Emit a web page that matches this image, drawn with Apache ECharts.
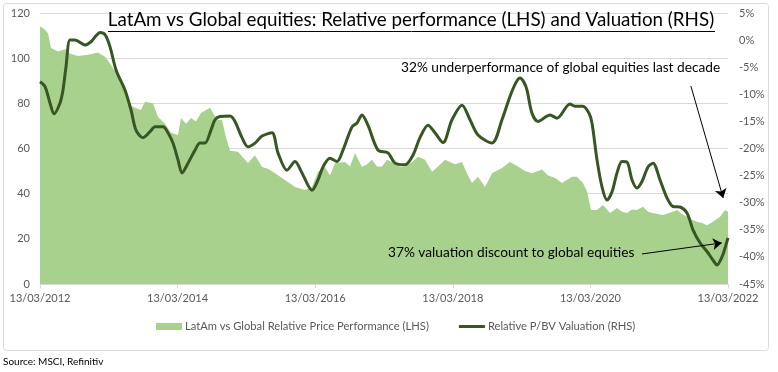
<!DOCTYPE html>
<html><head><meta charset="utf-8">
<script src="https://cdn.jsdelivr.net/npm/echarts@6/dist/echarts.min.js"></script>
<style>html,body{margin:0;padding:0;background:#fff}#c{width:778px;height:372px}</style>
</head><body><div id="c"></div>
<script>
// x values: years elapsed since 13/03/2012
const perfYears = [0,0.058,0.116,0.160,0.262,0.363,0.436,0.552,0.698,0.843,0.945,1.032,1.134,1.235,1.323,1.381,1.468,1.526,1.642,1.715,1.817,1.904,2.006,2.049,2.122,2.195,2.267,2.340,2.471,2.529,2.587,2.645,2.703,2.762,2.878,2.951,3.023,3.125,3.227,3.314,3.416,3.561,3.706,3.852,3.953,4.041,4.142,4.215,4.288,4.433,4.506,4.578,4.680,4.753,4.826,4.898,4.971,5.044,5.116,5.233,5.305,5.407,5.494,5.596,5.698,5.785,5.887,6.032,6.134,6.206,6.279,6.366,6.468,6.570,6.715,6.831,6.948,7.049,7.151,7.297,7.384,7.485,7.587,7.733,7.805,7.892,7.951,7.980,8.009,8.096,8.183,8.285,8.387,8.459,8.532,8.605,8.677,8.765,8.837,8.910,9.055,9.157,9.259,9.331,9.404,9.477,9.549,9.622,9.695,9.782,9.884,9.956,10.0];
const perfValues = [114,113,111,104.5,103,104,102,101,101.5,102.5,100.6,97,92,87,79,78,77,80.7,80,74,71,67,66,73.5,71,73.5,72,75.7,78,75,72.6,72.6,65,59,58.6,56,53.6,57,51.8,51,49,46,43,41.6,43,49.7,51.8,48,53.6,54,52,58,51.8,53,55,52,52,55,54,52,52,54,56.4,55,49.7,52,55,53,54,49,44.7,47.5,43,49,51.4,54,52,50,49,50.7,48,47,44.7,47.5,47.5,44.7,41,37,32.8,32.8,35,31.4,33.6,32,31.4,33,32.8,34.2,32,31.4,30.6,31.5,32.8,31,29.8,28.5,27.6,27,26,27.6,29.8,32.8,32];
const valYears = [0,0.073,0.145,0.203,0.291,0.334,0.378,0.436,0.509,0.654,0.741,0.814,0.872,0.945,1.017,1.105,1.235,1.323,1.395,1.497,1.599,1.672,1.788,1.860,1.933,2.006,2.064,2.151,2.253,2.326,2.398,2.485,2.544,2.616,2.762,2.834,2.936,3.023,3.125,3.227,3.372,3.459,3.590,3.706,3.808,3.953,4.041,4.113,4.215,4.317,4.404,4.535,4.608,4.680,4.767,4.913,5.058,5.160,5.305,5.422,5.523,5.640,5.741,5.858,5.988,6.134,6.250,6.366,6.570,6.715,6.831,6.919,6.977,7.035,7.078,7.151,7.238,7.413,7.515,7.703,7.776,7.892,7.980,8.023,8.096,8.169,8.241,8.314,8.387,8.459,8.532,8.605,8.677,8.750,8.837,8.910,9.012,9.113,9.201,9.302,9.404,9.491,9.593,9.695,9.782,9.840,9.913,9.956,10.0];
const valValues = [-7.7,-8.6,-11.6,-13.6,-11.6,-9.2,-4.9,0,0,-0.9,-0.3,0.8,1.4,1,-1.2,-5.5,-9.2,-12.9,-16.6,-18,-16.9,-16,-16,-17.1,-19,-22.1,-24.5,-22.7,-20.3,-19,-19,-16.6,-14.7,-14.1,-14,-15,-18,-19.7,-19,-17.7,-17.1,-20.8,-24,-22.4,-24.5,-27.7,-25.8,-23.4,-21.8,-22.4,-20.3,-16,-15.3,-13.8,-15.7,-20.3,-20.8,-22.7,-23,-21.2,-18,-15.7,-17.1,-18.9,-14.7,-12,-14.7,-17.5,-19,-14.7,-10.4,-7.8,-7,-7.8,-9.2,-13.5,-15,-13.8,-14.4,-11.8,-12.2,-12.2,-13.5,-15.3,-22.1,-27.1,-29.5,-28,-24.5,-22.4,-22.5,-25.8,-27.3,-26.1,-23.4,-22.7,-25.8,-29.1,-30.7,-30.8,-31.9,-35,-37.4,-39,-40.6,-41.5,-40,-38.4,-36.5];
const startYear = 2012;
const tickPrefix = '13/03/';
const titleText = 'LatAm vs Global equities: Relative performance (LHS) and Valuation (RHS)';
const seriesNames = ['LatAm vs Global Relative Price Performance (LHS)', 'Relative P/BV Valuation (RHS)'];
const note1 = '32% underperformance of global equities last decade';
const note2 = '37% valuation discount to global equities';
const sourceText = 'Source: MSCI, Refinitiv';

const FONT = 'Lato';
const chart = echarts.init(document.getElementById('c'), null, {renderer: 'canvas'});
const perfData = perfYears.map((x, i) => [x, perfValues[i]]);
const valData = valYears.map((x, i) => [x, valValues[i]]);

chart.setOption({
  animation: false,
  textStyle: {fontFamily: FONT},
  grid: {left: 40, right: 50, top: 13, bottom: 88},
  xAxis: {
    type: 'value', min: 0, max: 10, interval: 2,
    axisLine: {show: true, lineStyle: {color: '#d9d9d9'}},
    axisTick: {show: true, length: 4, lineStyle: {color: '#d9d9d9'}},
    splitLine: {show: false},
    axisLabel: {color: '#595959', fontSize: 11, fontFamily: FONT, margin: 9,
      formatter: v => tickPrefix + (startYear + v)}
  },
  yAxis: [{
    type: 'value', min: 0, max: 120, interval: 20,
    axisLine: {show: false}, axisTick: {show: false},
    splitLine: {show: true, lineStyle: {color: '#d9d9d9'}},
    axisLabel: {color: '#595959', fontSize: 11, fontFamily: FONT, margin: 10}
  }, {
    type: 'value', min: -45, max: 5, interval: 5,
    axisLine: {show: false}, axisTick: {show: false},
    splitLine: {show: false},
    axisLabel: {color: '#595959', fontSize: 11, fontFamily: FONT, margin: 11,
      formatter: v => v + '%'}
  }],
  legend: {
    bottom: 35, left: 151, itemGap: 30, itemWidth: 26, itemHeight: 7,
    textStyle: {color: '#595959', fontSize: 11.2, fontFamily: FONT, padding: [0, 0, 0, -2]},
    data: [
      {name: seriesNames[0], icon: 'rect'},
      {name: seriesNames[1], icon: 'path://M0,0h0.05v0.05h-0.05z M0,2h26v3h-26z M25.95,6.95h0.05v0.05h-0.05z'}
    ]
  },
  series: [{
    name: seriesNames[0], type: 'line', yAxisIndex: 0, data: perfData,
    symbol: 'none', lineStyle: {width: 0}, itemStyle: {color: '#a9d18e'},
    areaStyle: {color: '#a9d18e', opacity: 1},
    markLine: {
      silent: true, symbol: ['none', 'arrow'], symbolSize: 9,
      label: {show: false},
      itemStyle: {color: '#000'},
      lineStyle: {color: '#000', width: 1, type: 'solid'},
      emphasis: {disabled: true},
      data: [
        [{coord: [9.46, 87.7]}, {coord: [9.93, 38.1]}],
        [{coord: [8.75, 13.3]}, {coord: [9.91, 18.2]}]
      ]
    }
  }, {
    name: seriesNames[1], type: 'line', yAxisIndex: 1, data: valData,
    symbol: 'none', smooth: 0.3, z: 3,
    lineStyle: {color: '#375623', width: 3}, itemStyle: {color: '#375623'}
  }],
  graphic: [
    {type: 'rect', shape: {x: 3.5, y: 3.5, width: 765, height: 347, r: 3}, style: {fill: 'none', stroke: '#d9d9d9', lineWidth: 1}, silent: true, z: -1},
    {type: 'text', x: 411, y: 20, style: {text: titleText, font: '18.8px ' + FONT, fill: '#000', textAlign: 'center', textVerticalAlign: 'middle'}, z: 10},
    {type: 'line', shape: {x1: 108, y1: 31.5, x2: 715, y2: 31.5}, style: {stroke: '#000', lineWidth: 1}, z: 10},
    {type: 'text', x: 401, y: 68, style: {text: note1, font: '13.7px ' + FONT, fill: '#000', textVerticalAlign: 'middle'}, z: 10},
    {type: 'text', x: 388, y: 253, style: {text: note2, font: '13.7px ' + FONT, fill: '#000', textVerticalAlign: 'middle'}, z: 10},
    {type: 'text', x: 3, y: 362, style: {text: sourceText, font: '10px ' + FONT, fill: '#000', textVerticalAlign: 'middle'}, z: 10}
  ]
});
</script></body></html>
